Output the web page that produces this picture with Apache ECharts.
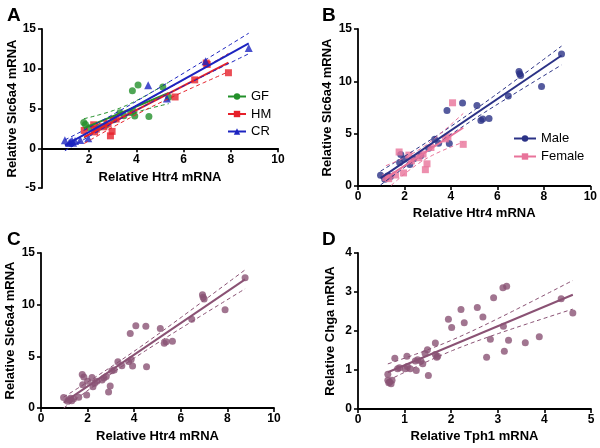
<!DOCTYPE html>
<html><head><meta charset="utf-8">
<script src="https://cdn.jsdelivr.net/npm/echarts/dist/echarts.min.js"></script>
<style>html,body{margin:0;padding:0;background:#fff}#c{width:600px;height:448px}</style>
</head><body><div id="c"></div>
<script>
// ---------- Panel A: Htr4 vs Slc6a4 by microbiota group ----------
const gfX = [1.77,1.84,2.00,2.40,2.70,3.04,3.30,3.47,3.76,3.83,3.87,3.93,4.07,4.53,5.12,5.37];
const gfY = [3.25,3.00,2.58,2.60,2.90,3.60,4.47,4.08,4.50,7.22,4.70,4.06,7.95,3.98,7.70,6.40];
const hmX = [1.79,2.19,2.23,2.30,2.62,2.80,2.90,2.97,3.14,5.64,6.47,6.96,7.00,7.90];
const hmY = [2.24,2.95,2.06,2.40,2.70,3.05,1.56,2.12,3.68,6.45,8.60,10.72,10.55,9.50];
const crX = [0.97,1.15,1.20,1.27,1.32,1.40,1.62,1.96,4.50,5.29,6.93,8.76];
const crY = [1.02,0.65,0.80,0.95,0.70,0.90,1.05,1.25,7.92,6.26,10.95,12.60];
// ---------- Panel B: by sex ----------
const maleX = [0.97,1.15,1.27,1.40,1.84,1.79,2.00,2.23,2.40,2.70,3.04,3.30,3.47,3.83,3.93,4.50,5.12,5.29,5.37,5.64,6.47,6.93,6.96,7.00,7.90,8.76];
const maleY = [1.02,0.65,0.95,0.90,3.00,2.24,2.58,2.06,2.60,2.90,3.60,4.47,4.08,7.22,4.06,7.92,7.70,6.26,6.40,6.45,8.60,10.95,10.72,10.55,9.50,12.60];
const femaleX = [1.20,1.32,1.62,1.96,1.77,2.19,2.30,2.62,2.80,2.90,2.97,3.14,3.76,3.87,4.07,4.53];
const femaleY = [0.80,0.70,1.05,1.25,3.25,2.95,2.40,2.70,3.05,1.56,2.12,3.68,4.50,4.70,7.95,3.98];
// ---------- Panel C: all animals ----------
const allX = maleX.concat(femaleX);
const allY = maleY.concat(femaleY);
// ---------- Panel D: Tph1 vs Chga ----------
const tph1X = [0.64,0.64,0.68,0.71,0.73,0.66,0.79,0.85,0.89,1.05,1.01,1.06,1.12,1.23,1.25,1.28,1.35,1.39,1.44,1.49,1.51,1.66,1.66,1.69,1.71,1.94,2.01,2.28,2.21,2.56,2.68,2.76,2.84,2.91,3.11,3.19,3.12,3.14,3.23,3.59,3.89,4.36,4.61];
const chgaY = [0.89,0.74,0.69,0.65,0.74,0.67,1.30,1.03,1.06,1.35,1.03,1.09,1.03,1.23,0.99,1.26,1.23,1.16,1.42,1.52,0.86,1.69,1.40,1.33,1.35,2.30,2.09,2.21,2.55,2.60,2.36,1.33,1.79,2.85,3.11,3.15,2.12,1.48,1.76,1.70,1.85,2.83,2.46];
// tick settings
const xTicksHtr4 = {min:0, max:10, interval:2};
const yTicksA = {min:-5, max:15, interval:5};
const yTicksSlc = {min:0, max:15, interval:5};
const xTicksTph1 = {min:0, max:5, interval:1};
const yTicksChga = {min:0, max:4, interval:1};

const FONT = '"Liberation Sans", Arial, sans-serif';

// linear regression with 95% confidence band
function tq(df){const z=1.959964;return z+(z*z*z+z)/4/df+(5*z**5+16*z**3+3*z)/96/df/df+(3*z**7+19*z**5+17*z**3-15*z)/384/df**3;}
function fit(xs, ys){
  const n=xs.length; let mx=0,my=0; for(let i=0;i<n;i++){mx+=xs[i];my+=ys[i];} mx/=n; my/=n;
  let sxx=0,sxy=0; for(let i=0;i<n;i++){sxx+=(xs[i]-mx)**2; sxy+=(xs[i]-mx)*(ys[i]-my);}
  const b=sxy/sxx, a=my-b*mx; let sse=0; for(let i=0;i<n;i++){sse+=(ys[i]-a-b*xs[i])**2;}
  const s=Math.sqrt(sse/(n-2)), t=tq(n-2);
  const x0=Math.min(...xs), x1=Math.max(...xs);
  const line=[[x0,a+b*x0],[x1,a+b*x1]], up=[], lo=[];
  const K=40;
  for(let k=0;k<=K;k++){const x=x0+(x1-x0)*k/K; const se=s*Math.sqrt(1/n+(x-mx)**2/sxx); up.push([x,a+b*x+t*se]); lo.push([x,a+b*x-t*se]);}
  return {line,up,lo};
}
function zip(xs,ys){return xs.map((x,i)=>[x,ys[i]]);}

function group(name, xs, ys, color, symbol, size, idx){
  const f=fit(xs,ys);
  return [
    {name, type:'line', xAxisIndex:idx, yAxisIndex:idx, data:f.line, symbol, symbolSize:size, showSymbol:false,
     lineStyle:{color, width:2}, itemStyle:{color}, z:4, silent:true, animation:false},
    {name, type:'scatter', xAxisIndex:idx, yAxisIndex:idx, data:zip(xs,ys), symbol, symbolSize:size,
     itemStyle:{color}, z:3, animation:false},
    {type:'line', xAxisIndex:idx, yAxisIndex:idx, data:f.up, showSymbol:false, symbol:'none', smooth:false,
     lineStyle:{color, width:1, type:[4,3]}, z:4, silent:true, animation:false},
    {type:'line', xAxisIndex:idx, yAxisIndex:idx, data:f.lo, showSymbol:false, symbol:'none', smooth:false,
     lineStyle:{color, width:1, type:[4,3]}, z:4, silent:true, animation:false}
  ];
}

const lbl = {fontFamily:FONT, fontSize:12, fontWeight:'bold', color:'#000'};
const nameStyle = {fontFamily:FONT, fontSize:13, fontWeight:'bold', color:'#000'};
function xAx(grid, t, name, gap, hideMin, offset){
  return {type:'value', gridIndex:grid, min:t.min, max:t.max, interval:t.interval, name, nameLocation:'middle', nameGap:gap,
    nameTextStyle:nameStyle, splitLine:{show:false}, offset:offset||0,
    axisLine:{show:true, onZero:false, lineStyle:{color:'#000', width:1.8}},
    axisTick:{show:true, length:4, lineStyle:{color:'#000', width:1.6}},
    axisLabel:Object.assign({margin:5, showMinLabel:!hideMin}, lbl)};
}
function yAx(grid, t, name, gap){
  return {type:'value', gridIndex:grid, min:t.min, max:t.max, interval:t.interval, name, nameLocation:'middle', nameGap:gap,
    nameTextStyle:nameStyle, splitLine:{show:false},
    axisLine:{show:true, onZero:false, lineStyle:{color:'#000', width:1.8}},
    axisTick:{show:true, length:4, lineStyle:{color:'#000', width:1.6}},
    axisLabel:Object.assign({margin:6}, lbl)};
}

const cGF='#23902a', cHM='#e6202a', cCR='#1c24c0', cM='#2b3286', cF='#e8739a', cAll='#8a5274';
const gridA = {left:42, top:29, width:236, height:159};
// x axis of panel A sits at y = 0 (crossing the y range -5..15)
const zeroOffsetA = -gridA.height * (0 - yTicksA.min) / (yTicksA.max - yTicksA.min);

const option = {
  backgroundColor:'#fff',
  animation:false,
  textStyle:{fontFamily:FONT},
  title:[
    {text:'A', left:2, top:1, textStyle:{fontFamily:FONT, fontSize:19, fontWeight:'bold', color:'#000'}},
    {text:'B', left:317, top:1, textStyle:{fontFamily:FONT, fontSize:19, fontWeight:'bold', color:'#000'}},
    {text:'C', left:2, top:225, textStyle:{fontFamily:FONT, fontSize:19, fontWeight:'bold', color:'#000'}},
    {text:'D', left:317, top:225, textStyle:{fontFamily:FONT, fontSize:19, fontWeight:'bold', color:'#000'}}
  ],
  grid:[
    gridA,
    {left:358, top:29, width:235, height:157},
    {left:41, top:253, width:233, height:155},
    {left:358, top:253, width:233, height:156}
  ],
  xAxis:[
    xAx(0, xTicksHtr4, 'Relative Htr4 mRNA', 23, true, zeroOffsetA),
    xAx(1, xTicksHtr4, 'Relative Htr4 mRNA', 21, false),
    xAx(2, xTicksHtr4, 'Relative Htr4 mRNA', 22, false),
    xAx(3, xTicksTph1, 'Relative Tph1 mRNA', 21, false)
  ],
  yAxis:[
    yAx(0, yTicksA, 'Relative Slc6a4 mRNA', 23),
    yAx(1, yTicksSlc, 'Relative Slc6a4 mRNA', 24),
    yAx(2, yTicksSlc, 'Relative Slc6a4 mRNA', 24),
    yAx(3, yTicksChga, 'Relative Chga mRNA', 21)
  ],
  legend:[
    {data:['GF','HM','CR'], orient:'vertical', left:227, top:90, padding:0, itemWidth:18, itemHeight:8, itemGap:4.5,
     textStyle:{fontFamily:FONT, fontSize:13, color:'#000'}, selectedMode:false},
    {data:['Male','Female'], orient:'vertical', left:513, top:132, padding:0, itemWidth:22, itemHeight:8, itemGap:5,
     textStyle:{fontFamily:FONT, fontSize:13, color:'#000'}, selectedMode:false}
  ],
  series:[].concat(
    group('GF', gfX, gfY, cGF, 'circle', 7, 0),
    group('HM', hmX, hmY, cHM, 'rect', 7, 0),
    group('CR', crX, crY, cCR, 'triangle', 8, 0),
    group('Male', maleX, maleY, cM, 'circle', 7, 1),
    group('Female', femaleX, femaleY, cF, 'rect', 7, 1),
    group('All', allX, allY, cAll, 'circle', 7, 2),
    group('Tph1', tph1X, chgaY, cAll, 'circle', 7, 3)
  )
};
const chart = echarts.init(document.getElementById('c'), null, {renderer:'canvas'});
chart.setOption(option);
</script></body></html>
